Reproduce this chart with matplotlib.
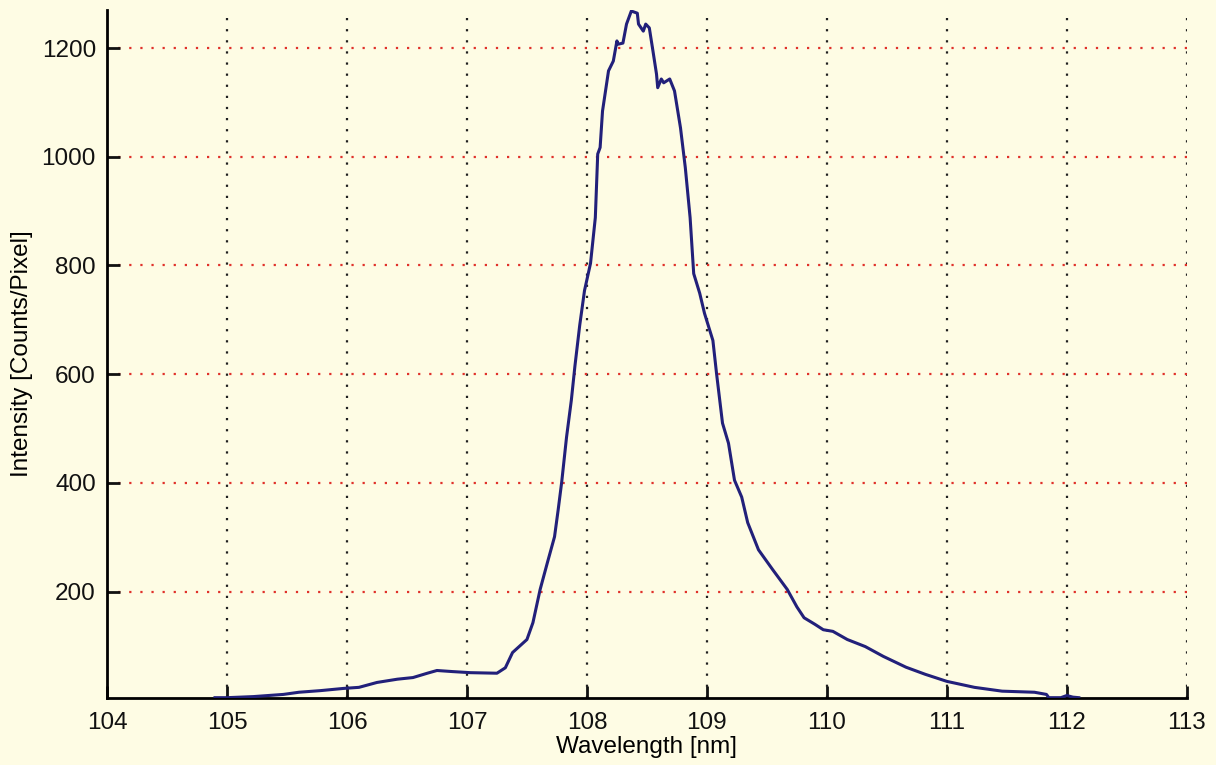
import matplotlib.pyplot as plt

# spectrum
wavelength = [104.9, 105.0, 105.22, 105.47, 105.6, 105.78, 105.97, 106.1, 106.25, 106.42,
              106.55, 106.67, 106.75, 106.88, 107.03, 107.25, 107.32, 107.38, 107.5, 107.55,
              107.61, 107.67, 107.73, 107.76, 107.79, 107.83, 107.87, 107.9, 107.94, 107.98,
              108.03, 108.07, 108.09, 108.11, 108.13, 108.18, 108.22, 108.25, 108.26, 108.3,
              108.33, 108.37, 108.42, 108.43, 108.47, 108.49, 108.52, 108.55, 108.58, 108.59,
              108.62, 108.64, 108.69, 108.73, 108.78, 108.82, 108.86, 108.89, 108.94, 108.98,
              109.05, 109.08, 109.13, 109.18, 109.23, 109.29, 109.34, 109.43, 109.55, 109.67,
              109.75, 109.81, 109.9, 109.97, 110.05, 110.17, 110.32, 110.47, 110.66, 110.82,
              111.0, 111.23, 111.46, 111.73, 111.83, 111.85, 111.95, 112.0, 112.05, 112.1]
intensity = [5, 5, 7, 11, 15, 18, 22, 24, 33, 39,
             42, 50, 55, 53, 51, 50, 60, 88, 112, 143,
             204, 253, 301, 350, 402, 484, 552, 615, 690, 754,
             804, 888, 1005, 1017, 1084, 1158, 1176, 1213, 1207, 1209,
             1244, 1268, 1264, 1244, 1231, 1244, 1237, 1195, 1152, 1127,
             1143, 1136, 1143, 1121, 1053, 980, 888, 785, 749, 712,
             662, 602, 510, 473, 405, 374, 327, 277, 240, 204,
             172, 152, 140, 130, 127, 112, 99, 81, 61, 48,
             35, 24, 17, 15, 11, 5, 5, 9, 6, 5]

x_ticks = [104, 105, 106, 107, 108, 109, 110, 111, 112, 113]
y_ticks = [200, 400, 600, 800, 1000, 1200]

plt.rcParams['font.family'] = ['Liberation Sans', 'DejaVu Sans']
bg = '#fefce4'

fig = plt.figure(figsize=(12.16, 7.65), dpi=100, facecolor=bg)
ax = fig.add_axes([0.088, 0.088, 0.888, 0.899])
ax.set_facecolor(bg)

# grid: black dotted verticals, red dotted horizontals
for xv in x_ticks[1:]:
    ax.axvline(xv, color='#202020', linestyle=(0, (1, 4)), linewidth=1.6, zorder=1)
for yv in y_ticks:
    ax.axhline(yv, color='#e0302a', linestyle=(0, (1, 4)), linewidth=1.6, zorder=1)

ax.plot(wavelength, intensity, color='#22207a', linewidth=2.2, zorder=3)

ax.set_xlim(104, 113)
ax.set_ylim(5, 1270)
ax.set_xticks(x_ticks)
ax.set_yticks(y_ticks)

ax.spines['top'].set_visible(False)
ax.spines['right'].set_visible(False)
ax.spines['left'].set_linewidth(2)
ax.spines['bottom'].set_linewidth(2)
ax.tick_params(direction='in', length=9, width=2, labelsize=17.5, colors='#111111')
ax.tick_params(axis='x', pad=10)
ax.tick_params(axis='y', pad=8)

ax.set_xlabel('Wavelength [nm]', fontsize=17.5, labelpad=2)
ax.set_ylabel('Intensity [Counts/Pixel]', fontsize=17.5, labelpad=6)

fig.savefig('out.png', dpi=100, facecolor=bg)
